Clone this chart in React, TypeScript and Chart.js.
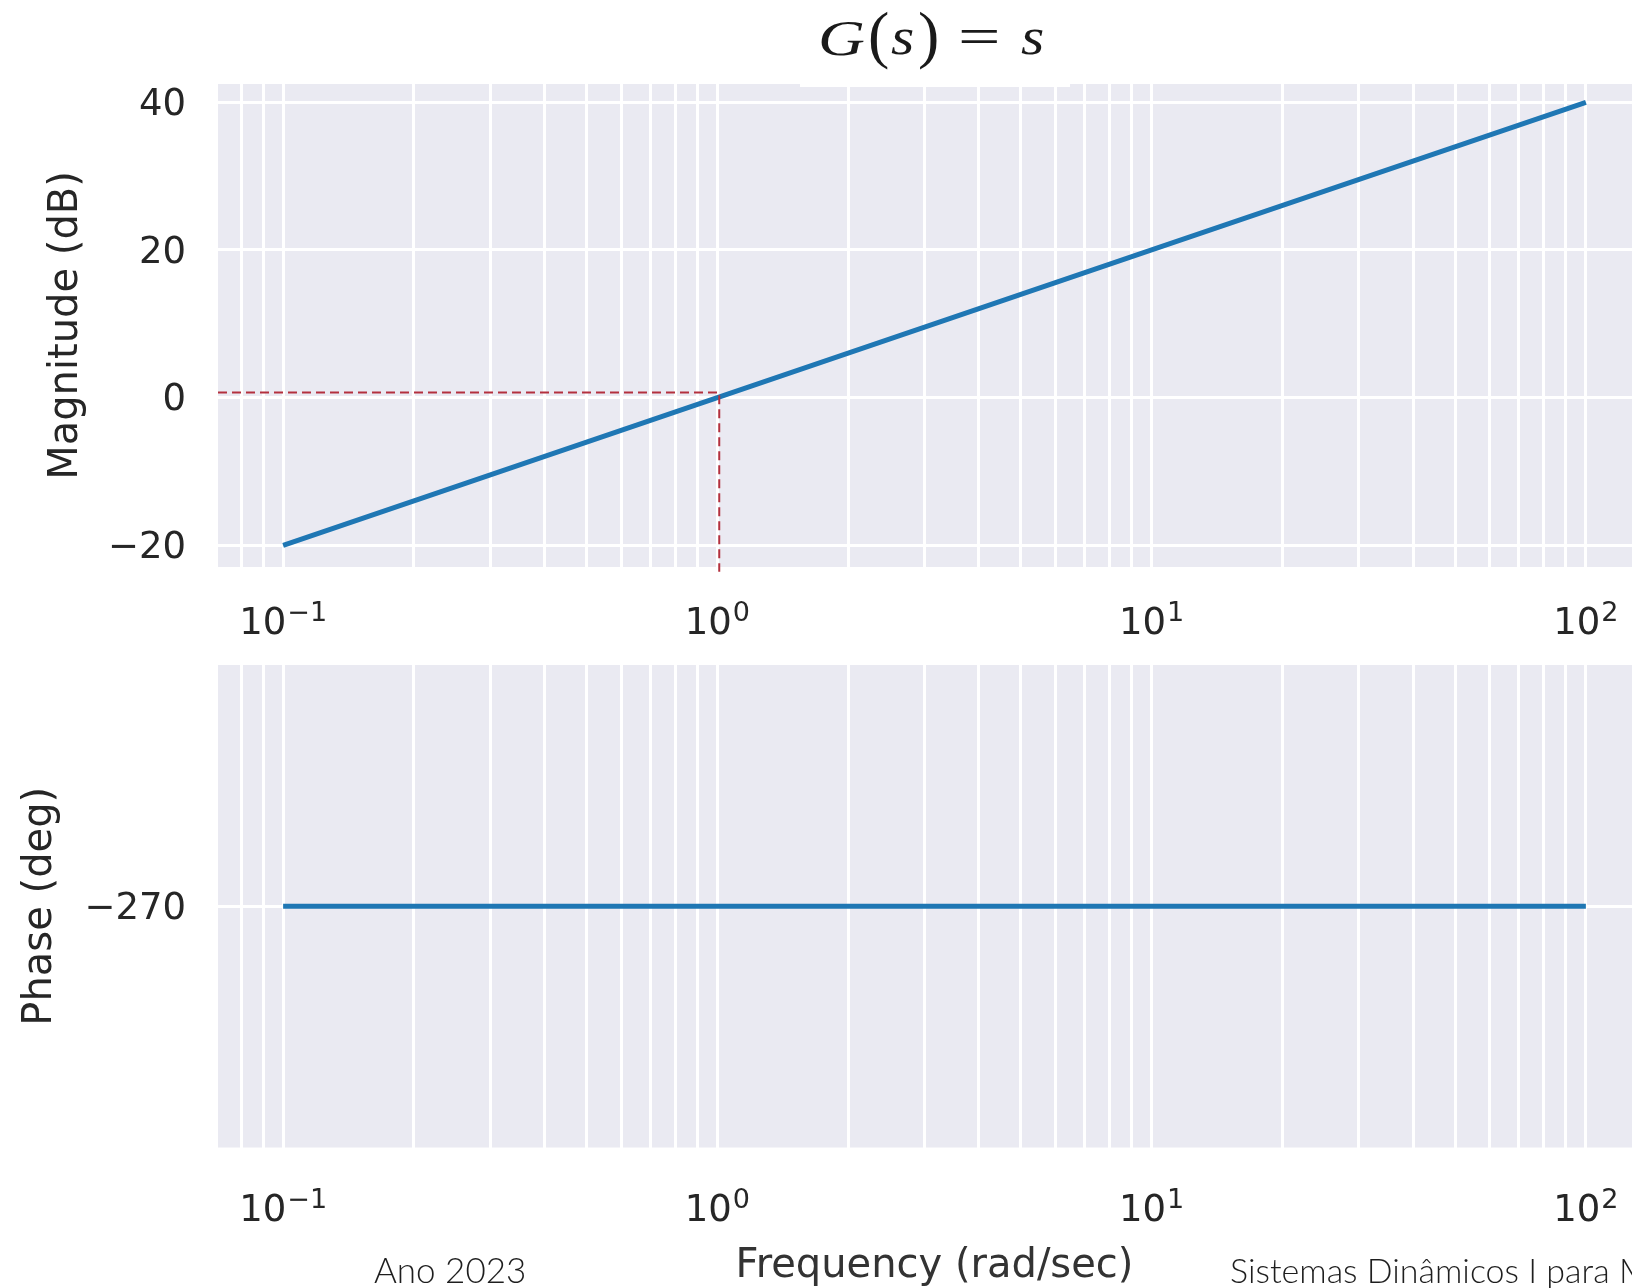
import React, { useEffect, useRef } from 'react';
import { Chart, registerables } from 'chart.js';

Chart.register(...registerables);

// ---- data ----
const freq = [0.1, 1, 10, 100];
const magnitudeDb = [-20, 0, 20, 40];
const phaseDeg = [-270, -270, -270, -270];
const guideFreq = [0.0708, 1.01, 1.01];
const guideDb = [0.68, 0.68, -23.6];

const majorFreqTicks = [0.1, 1, 10, 100];
const majorFreqExponents = ['\u22121', '0', '1', '2'];
const minorFreqTicks = [
  0.08, 0.09, 0.2, 0.3, 0.4, 0.5, 0.6, 0.7, 0.8, 0.9,
  2, 3, 4, 5, 6, 7, 8, 9, 20, 30, 40, 50, 60, 70, 80, 90,
];
const magTicks = [-20, 0, 20, 40];
const phaseTicks = [-270];

const X_MIN = 0.0708; // 10^-1.15
const X_MAX = 141.25; // 10^2.15
const MAG_MIN = -22.94;
const MAG_MAX = 42.48;
const PHASE_MIN = -297;
const PHASE_MAX = -243;

const FONT = '"DejaVu Sans", sans-serif';
const TEXT = '#262626';

const bgPlugin = {
  id: 'axesBg',
  beforeDraw(chart: any) {
    const { ctx, chartArea: a } = chart;
    ctx.save();
    ctx.fillStyle = '#EAEAF2';
    ctx.fillRect(a.left, a.top, a.right - a.left, a.bottom - a.top);
    ctx.restore();
  },
};

function expLabels(baselineOffset: number) {
  return {
    id: 'expLabels',
    afterDraw(chart: any) {
      const xs = chart.scales.x;
      const ctx = chart.ctx;
      const base = chart.chartArea.bottom + baselineOffset;
      ctx.save();
      ctx.fillStyle = TEXT;
      ctx.textBaseline = 'alphabetic';
      ctx.textAlign = 'left';
      majorFreqTicks.forEach((v, i) => {
        const px = xs.getPixelForValue(v);
        const exp = majorFreqExponents[i];
        ctx.font = '37px ' + FONT;
        const wb = ctx.measureText('10').width;
        ctx.font = '27px ' + FONT;
        const we = ctx.measureText(exp).width;
        const start = px - (wb + we + 1) / 2;
        ctx.font = '37px ' + FONT;
        ctx.fillText('10', start, base);
        ctx.font = '27px ' + FONT;
        ctx.fillText(exp, start + wb + 1, base - 13);
      });
      ctx.restore();
    },
  };
}

const fmtMinus = (v: any) => String(v).replace('-', '\u2212');

function xScale(height: number, title?: any) {
  const allTicks = [...minorFreqTicks, ...majorFreqTicks].sort((a, b) => a - b);
  return {
    type: 'logarithmic',
    min: X_MIN,
    max: X_MAX,
    bounds: 'data',
    afterBuildTicks: (s: any) => {
      s.ticks = allTicks.map((v) => ({ value: v, major: majorFreqTicks.includes(v) }));
    },
    ticks: { display: false },
    grid: { color: '#ffffff', lineWidth: 3, drawTicks: false },
    border: { display: false },
    title: title || { display: false },
    afterFit: (s: any) => {
      s.height = height;
    },
  };
}

function yScale(min: number, max: number, ticks: number[], label: string, titlePad: number) {
  return {
    type: 'linear',
    min,
    max,
    afterBuildTicks: (s: any) => {
      s.ticks = ticks.map((v) => ({ value: v }));
    },
    ticks: {
      font: { family: FONT, size: 37 },
      color: TEXT,
      padding: 32,
      labelOffset: 3,
      callback: (v: any) => fmtMinus(v),
    },
    grid: { color: '#ffffff', lineWidth: 3, drawTicks: false },
    border: { display: false },
    title: {
      display: true,
      text: label,
      font: { family: FONT, size: 40 },
      color: TEXT,
      padding: { top: titlePad, bottom: 0 },
    },
    afterFit: (s: any) => {
      s.width = 218;
    },
  };
}

export default function App() {
  const topRef = useRef<HTMLCanvasElement>(null);
  const botRef = useRef<HTMLCanvasElement>(null);

  useEffect(() => {
    const top = new Chart(topRef.current as HTMLCanvasElement, {
      type: 'line',
      data: {
        datasets: [
          {
            label: 'guide',
            data: guideFreq.map((x, i) => ({ x, y: guideDb[i] })),
            borderColor: '#b3303e',
            borderWidth: 2,
            borderDash: [9, 5],
            pointRadius: 0,
            clip: false,
            order: 0,
          } as any,
          {
            label: 'Magnitude',
            data: freq.map((x, i) => ({ x, y: magnitudeDb[i] })),
            borderColor: '#1f77b4',
            borderWidth: 5,
            pointRadius: 0,
            tension: 0,
            order: 1,
          },
        ],
      },
      options: {
        responsive: false,
        animation: false,
        devicePixelRatio: 1,
        layout: { padding: { left: 0, top: 84, right: 49, bottom: 0 } },
        plugins: { legend: { display: false }, tooltip: { enabled: false }, title: { display: false } },
        scales: {
          x: xScale(83) as any,
          y: yScale(MAG_MIN, MAG_MAX, magTicks, 'Magnitude (dB)', 43) as any,
        },
      },
      plugins: [bgPlugin, expLabels(67)],
    });

    const bot = new Chart(botRef.current as HTMLCanvasElement, {
      type: 'line',
      data: {
        datasets: [
          {
            label: 'Phase',
            data: freq.map((x, i) => ({ x, y: phaseDeg[i] })),
            borderColor: '#1f77b4',
            borderWidth: 5,
            pointRadius: 0,
            tension: 0,
          },
        ],
      },
      options: {
        responsive: false,
        animation: false,
        devicePixelRatio: 1,
        layout: { padding: { left: 0, top: 65, right: 49, bottom: 0 } },
        plugins: { legend: { display: false }, tooltip: { enabled: false }, title: { display: false } },
        scales: {
          x: xScale(152.5, {
            display: true,
            text: 'Frequency (rad/sec)',
            font: { family: FONT, size: 40 },
            color: '#333333',
            padding: { top: 0, bottom: 9 },
          }) as any,
          y: yScale(PHASE_MIN, PHASE_MAX, phaseTicks, 'Phase (deg)', 17) as any,
        },
      },
      plugins: [bgPlugin, expLabels(73.5)],
    });

    return () => {
      top.destroy();
      bot.destroy();
    };
  }, []);

  const serif = '"Liberation Serif", "DejaVu Serif", serif';
  const glyph = (text: string, left: number, baseline: number, size: number, italic: boolean, sx = 1) => (
    <span
      style={{
        position: 'absolute',
        left,
        top: baseline - 0.8375 * size,
        fontFamily: serif,
        fontSize: size,
        lineHeight: 1,
        fontStyle: italic ? 'italic' : 'normal',
        color: '#1a1a1a',
        whiteSpace: 'nowrap',
        transform: `scaleX(${sx})`,
        transformOrigin: 'left center',
      }}
    >
      {text}
    </span>
  );

  return (
    <div
      style={{
        position: 'fixed',
        left: 0,
        top: 0,
        width: 1632,
        height: 1288,
        overflow: 'hidden',
        background: '#ffffff',
      }}
    >
      <canvas ref={topRef} width={1700} height={650} style={{ position: 'absolute', left: 0, top: 0 }} />
      <canvas ref={botRef} width={1700} height={700} style={{ position: 'absolute', left: 0, top: 600 }} />

      <div style={{ position: 'absolute', left: 800, top: 0, width: 270, height: 87, background: '#ffffff' }}>
        {glyph('G', 18, 55, 50, true, 1.3)}
        {glyph('(', 68, 57, 64, false)}
        {glyph('s', 91, 55, 52, true, 1.15)}
        {glyph(')', 118, 57, 64, false)}
        {glyph('=', 158, 55, 52, false, 1.45)}
        {glyph('s', 221, 55, 52, true, 1.15)}
      </div>

      <div
        style={{
          position: 'absolute',
          left: 374,
          top: 1283 - 0.887 * 35,
          fontFamily: 'Lato, "Open Sans", sans-serif',
          fontWeight: 300,
          fontSize: 35,
          lineHeight: 1,
          color: '#1e1e1e',
          whiteSpace: 'nowrap',
        }}
      >
        Ano 2023
      </div>
      <div
        style={{
          position: 'absolute',
          left: 1230,
          top: 1283 - 0.887 * 34,
          fontFamily: 'Lato, "Open Sans", sans-serif',
          fontWeight: 300,
          fontSize: 34,
          lineHeight: 1,
          color: '#1e1e1e',
          whiteSpace: 'nowrap',
        }}
      >
        Sistemas Dinâmicos I para Modelagem
      </div>
    </div>
  );
}
